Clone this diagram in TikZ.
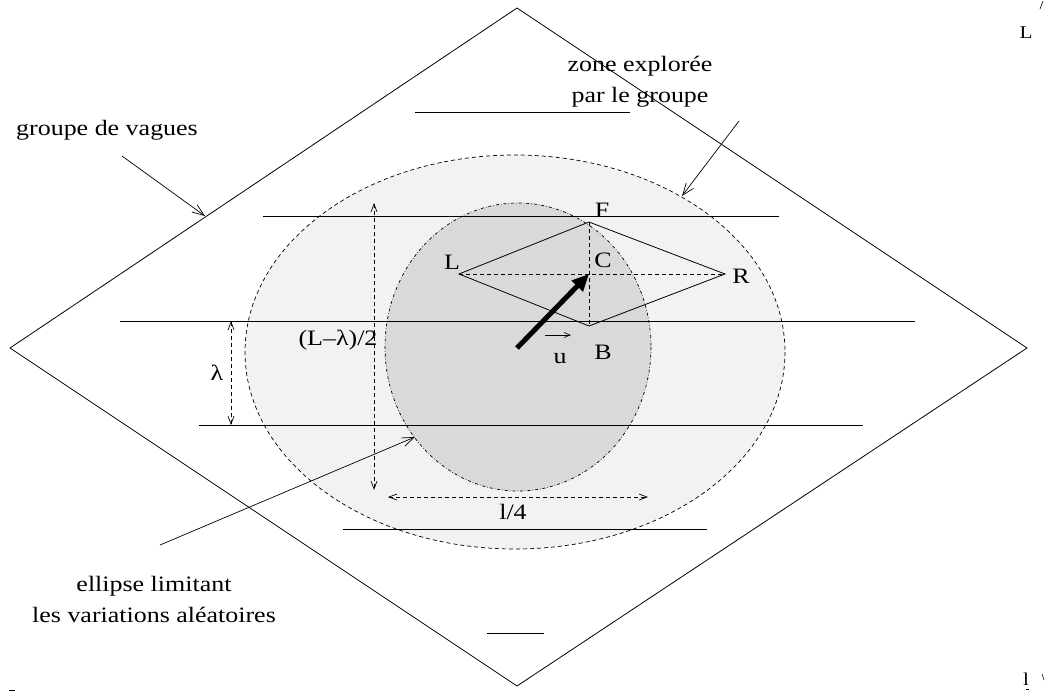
\documentclass[tikz,border=0pt]{standalone}
\usepackage{graphicx}
\usepackage{fontspec}
\setmainfont{Liberation Serif}
\usetikzlibrary{arrows.meta,positioning,calc}
\tikzset{
  % wave crests (lines of the group)
  crest/.style={line width=0.9pt},
  % explored zone and random ellipse
  zoneout/.style={draw, dash pattern=on 4pt off 3pt, line width=0.7pt, fill=black!5},
  zonein/.style={draw, dash pattern=on 3pt off 2pt on 0.6pt off 2pt, line width=0.7pt, fill=black!15},
  % dimension arrows
  cote/.style={{Straight Barb[length=8pt,width=6pt]}-{Straight Barb[length=8pt,width=6pt]},
    dash pattern=on 4pt off 3pt, line width=0.7pt},
  % arrows from the comments
  callout/.style={-{Straight Barb[length=12pt,width=9pt]}, line width=0.7pt},
  lbl/.style={inner sep=1pt, font=\fontsize{22}{31}\selectfont},
}
% text set a little wider than high
\newcommand{\wtxt}[1]{\scalebox{1.18}[1]{#1}}

\begin{document}
\begin{tikzpicture}[x=1pt, y=-1pt]
    \useasboundingbox (0,0) rectangle (1045,691);
    % zones
    \path[zoneout] (515,352) ellipse [x radius=270, y radius=197];
    \path[zonein] (518,347) ellipse [x radius=133, y radius=144];
    % wave group
    \draw[line width=0.8pt] (517,8) -- (1027,348) -- (517,686) -- (10,348) -- cycle;
    \foreach \xa/\xb/\yy in {415/630/112, 263/779/216, 120/915/321,
                             199/863/425, 343/707/529, 487/544/633}
      \draw[crest] (\xa,\yy) -- (\xb,\yy);
    % the L F R B rhombus
    \coordinate (ptL) at (459,274);
    \coordinate (ptF) at (589,222);
    \coordinate (ptR) at (725,274);
    \coordinate (ptB) at (589,326);
    \coordinate (ptC) at (589,274);
    \draw[line width=0.8pt] (ptL) -- (ptF) -- (ptR) -- (ptB) -- cycle;
    \draw[dash pattern=on 4pt off 3pt, line width=0.7pt] (ptL) -- (ptR);
    \draw[dash pattern=on 4pt off 3pt, line width=0.7pt] (ptF) -- (ptB);
    \node[lbl] (labL) at (452,262) {\wtxt{L}};
    \node[lbl] (labF) at (602,210) {\wtxt{F}};
    \node[lbl] (labC) at (603,260) {\wtxt{C}};
    \node[lbl] (labR) at (741,276) {\wtxt{R}};
    \node[lbl] (labB) at (603,352) {\wtxt{B}};
    % group velocity
    \coordinate (u0) at (517,348);
    \draw[line width=5pt, -{Triangle[length=17pt,width=15pt]}] (u0) -- (ptC);
    \node[lbl] (labu) at (560,359) {\wtxt{u}};
    \coordinate (ua) at (545,335);
    \coordinate (ub) at (571,335);
    \draw[line width=0.6pt, -{Straight Barb[length=6pt,width=5pt]}] (ua) -- (ub);
    % dimensions
    \coordinate (la) at (231,321);
    \coordinate (lb) at (231,425);
    \draw[cote] (la) -- (lb);
    \node[lbl] (lam) at (217,373) {\wtxt{λ}};
    \coordinate (ha) at (374,203);
    \coordinate (hb) at (374,490);
    \draw[cote] (ha) -- (hb);
    \node[lbl] (half) at (338,340) {\wtxt{(L–λ)/2}};
    \coordinate (wa) at (388,497);
    \coordinate (wb) at (648,497);
    \draw[cote] (wa) -- (wb);
    \node[lbl] (quart) at (513,512) {\wtxt{l/4}};
    % comments
    \node[lbl] (grp) at (107,130) {\wtxt{groupe de vagues}};
    \coordinate (grpFoot) at (122,156);
    \coordinate (grpTip) at (205,216);
    \draw[callout] (grpFoot) -- (grpTip);
    \node[lbl, align=center] (zone) at (640,82) {\wtxt{zone explorée}\\\wtxt{par le groupe}};
    \coordinate (zoneFoot) at (739,121);
    \coordinate (zoneTip) at (682,196);
    \draw[callout] (zoneFoot) -- (zoneTip);
    \node[lbl, align=center] (ell) at (154,599) {\wtxt{ellipse limitant}\\\wtxt{les variations aléatoires}};
    \coordinate (ellFoot) at (160,545);
    \coordinate (ellTip) at (415,437);
    \draw[callout] (ellFoot) -- (ellTip);
    % clipped marks at the edges
    \node[lbl, font=\fontsize{18}{20}\selectfont] (cornL) at (1026,33) {\wtxt{L}};
    \node[lbl, font=\fontsize{18}{20}\selectfont] (cornl) at (1026,679) {\wtxt{l}};
    \draw[line width=0.6pt] (1040,9) -- (1043,1);
    \draw[line width=0.6pt] (1042,674) -- (1044,680);
    \draw[line width=0.6pt] (1026,689) -- (1029,689);
    \draw[line width=0.6pt] (9,690) -- (15,690);
\end{tikzpicture}
\end{document}
